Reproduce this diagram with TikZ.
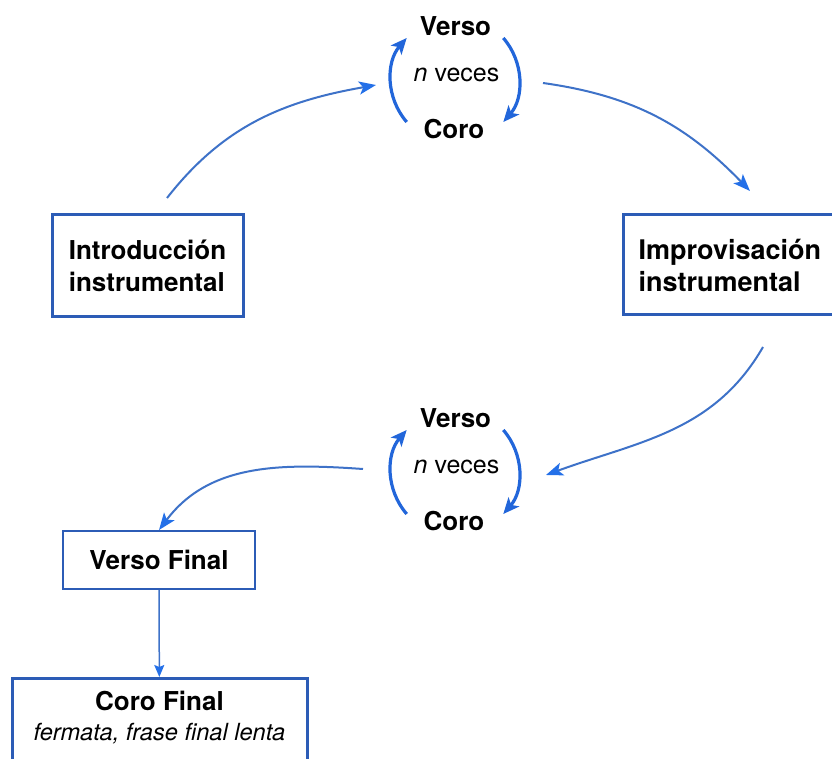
\documentclass[tikz,border=0pt]{standalone}
\usepackage{fontspec}
\setmainfont{TeX Gyre Heros}
\usetikzlibrary{arrows.meta, positioning}
\definecolor{boxblue}{RGB}{44,92,182}
\definecolor{lineblue}{RGB}{62,114,200}
\definecolor{tipblue}{RGB}{36,112,232}
\definecolor{turnblue}{RGB}{34,102,218}

\begin{document}
\begin{tikzpicture}[x=1pt, y=1pt,
        stage/.style={draw=boxblue, line width=3pt, fill=white, align=left,
            font=\fontsize{26}{32}\selectfont\bfseries},
        part/.style={font=\fontsize{26}{32}\selectfont\bfseries, anchor=base},
        times/.style={font=\fontsize{25}{30}\selectfont, anchor=base},
        flow/.style={draw=lineblue, line width=2pt,
            -{Stealth[length=17pt, width=13pt, inset=4pt, color=tipblue]}},
        turn/.style={draw=turnblue, line width=3.2pt,
            -{Stealth[length=16pt, width=14pt, inset=4pt]}}]
        \clip (0,0) rectangle (832,758);

        % Boxes
        \node[stage, minimum width=191pt, minimum height=102pt] (intro) at (147.5,492) {Introducción\\instrumental};
        \node[stage, anchor=west, inner xsep=15pt, text width=195pt, minimum height=100pt,
            font=\fontsize{27}{32}\selectfont\bfseries] (improv) at (622,493) {Improvisación\\instrumental};
        \node[stage, line width=2pt, minimum width=192pt, minimum height=58pt] (versoFinal) at (159,198) {Verso Final};
        \node[stage, align=center, anchor=north, minimum width=295pt, inner ysep=13pt, text depth=60pt,
            font=\fontsize{23.6}{30}\selectfont] (coroFinal) at (159.5,81)
            {\textbf{\fontsize{26}{30}\selectfont Coro Final}\\\textit{fermata, frase final lenta}};

        % Top cycle
        \coordinate (cA) at (455,678);
        \node[part] (versoA) at (455.5,722) {Verso};
        \node[times] (vecesA) at (456.5,676) {\textit{n} veces};
        \node[part] (coroA) at (454,619) {Coro};
        \draw[turn] ([shift={(221:64)}]cA) arc[start angle=221, end angle=139, radius=64];
        \draw[turn] ([shift={(41:64)}]cA) arc[start angle=41, end angle=-41, radius=64];

        % Bottom cycle
        \coordinate (cB) at (455,286);
        \node[part] (versoB) at (455.5,330) {Verso};
        \node[times] (vecesB) at (456.5,284) {\textit{n} veces};
        \node[part] (coroB) at (454,227) {Coro};
        \draw[turn] ([shift={(221:64)}]cB) arc[start angle=221, end angle=139, radius=64];
        \draw[turn] ([shift={(41:64)}]cB) arc[start angle=41, end angle=-41, radius=64];

        % Ends of the flow arrows
        \coordinate (introOut) at (167,560);
        \coordinate (cycleAIn) at (376,673);
        \coordinate (cycleAOut) at (543,675);
        \coordinate (improvIn) at (750,567);
        \coordinate (improvOut) at (763,411);
        \coordinate (cycleBIn) at (546,283);
        \coordinate (cycleBOut) at (363,289);

        % Flow arrows
        \draw[flow] (introOut) to[out=52, in=190] (cycleAIn);
        \draw[flow] (cycleAOut) to[out=-8, in=134] (improvIn);
        \draw[flow] (improvOut) to[out=240, in=20] (cycleBIn);
        \draw[flow] (cycleBOut) to[out=176, in=53] (versoFinal.north);
        \draw[flow, line width=1.5pt, -{Stealth[length=12pt, width=10pt, inset=2pt, color=tipblue]}]
            (versoFinal) -- (coroFinal);
    \end{tikzpicture}
\end{document}
